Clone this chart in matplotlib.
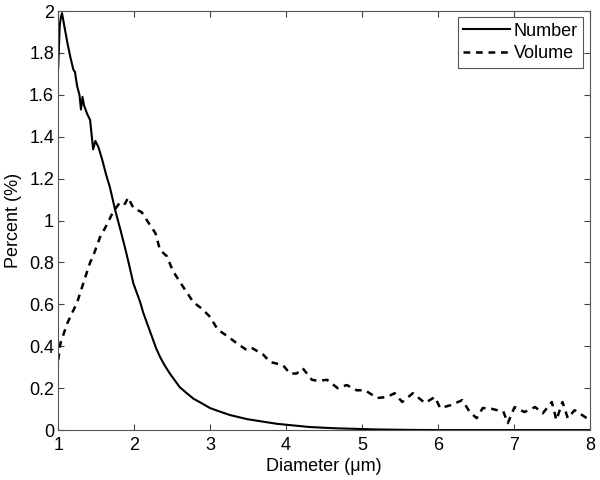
import numpy as np
import matplotlib
matplotlib.use("Agg")
import matplotlib.pyplot as plt
from matplotlib.ticker import FuncFormatter

# ------------------------------------------------------------
#  Daten
# ------------------------------------------------------------
num_x = [1.00, 1.02, 1.035, 1.05, 1.07, 1.09, 1.12, 1.16, 1.20, 1.22, 1.25,
         1.28, 1.30, 1.32, 1.34, 1.38, 1.42, 1.46, 1.49, 1.53, 1.58, 1.63,
         1.68, 1.75, 1.82, 1.88, 1.92, 1.99, 2.03, 2.08, 2.12, 2.17, 2.21,
         2.25, 2.29, 2.34, 2.40, 2.47, 2.53, 2.60, 2.68, 2.78, 2.88, 3.00,
         3.13, 3.26, 3.49, 3.70, 3.88, 4.10, 4.30, 4.50, 4.70, 5.00, 5.20,
         5.60, 6.00, 7.00, 8.00]
num_y = [1.73, 1.93, 1.97, 1.99, 1.95, 1.91, 1.85, 1.78, 1.72, 1.71, 1.64,
         1.60, 1.53, 1.59, 1.55, 1.51, 1.48, 1.34, 1.38, 1.35, 1.29, 1.22,
         1.16, 1.05, 0.955, 0.87, 0.81, 0.70, 0.66, 0.61, 0.56, 0.51, 0.47,
         0.43, 0.39, 0.35, 0.31, 0.27, 0.24, 0.205, 0.18, 0.15, 0.13, 0.105,
         0.088, 0.072, 0.052, 0.040, 0.030, 0.022, 0.015, 0.011, 0.008, 0.005,
         0.003, 0.001, 0.0, 0.0, 0.0]

vol_x = [1.00, 1.03, 1.12, 1.25, 1.33, 1.42, 1.46, 1.55, 1.64, 1.72, 1.82,
         1.88, 1.92, 1.99, 2.10, 2.17, 2.28, 2.34, 2.43, 2.51, 2.58, 2.67,
         2.78, 2.89, 3.00, 3.10, 3.22, 3.35, 3.49, 3.56, 3.70, 3.79, 3.96,
         4.05, 4.14, 4.22, 4.34, 4.42, 4.54, 4.68, 4.80, 4.93, 5.04, 5.20,
         5.33, 5.43, 5.53, 5.67, 5.83, 5.96, 6.03, 6.18, 6.32, 6.42, 6.51,
         6.59, 6.67, 6.78, 6.86, 6.92, 7.01, 7.14, 7.28, 7.38, 7.50, 7.56,
         7.64, 7.71, 7.80, 7.96, 8.00]
vol_y = [0.334, 0.415, 0.51, 0.61, 0.70, 0.80, 0.83, 0.92, 0.98, 1.04, 1.09,
         1.08, 1.11, 1.06, 1.04, 1.00, 0.94, 0.86, 0.83, 0.76, 0.72, 0.67,
         0.61, 0.58, 0.54, 0.48, 0.45, 0.415, 0.38, 0.39, 0.36, 0.325, 0.31,
         0.27, 0.27, 0.295, 0.24, 0.235, 0.24, 0.20, 0.215, 0.19, 0.19, 0.153,
         0.158, 0.176, 0.134, 0.176, 0.129, 0.158, 0.105, 0.12, 0.143, 0.086,
         0.057, 0.105, 0.105, 0.095, 0.09, 0.033, 0.11, 0.086, 0.11, 0.08,
         0.134, 0.048, 0.134, 0.057, 0.095, 0.057, 0.05]

# ------------------------------------------------------------
#  Plot
# ------------------------------------------------------------
plt.rcParams["font.family"] = ["Liberation Sans", "DejaVu Sans"]
FS = 13

fig = plt.figure(figsize=(6, 4.8), dpi=100)
ax = fig.add_axes([0.097, 0.104, 0.886, 0.873])

ax.plot(num_x, num_y, color="black", lw=1.5, label="Number")
ax.plot(vol_x, vol_y, color="black", lw=1.8, ls=(0, (2.7, 2.3)),
        label="Volume")

ax.set_xlim(1, 8)
ax.set_ylim(0, 2)
ax.set_xticks(np.arange(1, 9, 1))
ax.set_yticks(np.arange(0, 2.01, 0.2))
ax.yaxis.set_major_formatter(FuncFormatter(lambda v, p: f"{v:g}"))
ax.tick_params(direction="in", length=4, top=True, right=True,
               labelsize=FS, color="#444444")
ax.tick_params(axis="x", pad=5)
ax.tick_params(axis="y", pad=3)
for s in ax.spines.values():
    s.set_color("#555555")
    s.set_linewidth(0.8)

ax.set_xlabel("Diameter (\u03bcm)", fontsize=FS, labelpad=3)
ax.set_ylabel("Percent (%)", fontsize=FS, labelpad=5)

leg = ax.legend(loc="upper right", fontsize=FS, fancybox=False,
                framealpha=1, edgecolor="#555555", borderaxespad=0.35,
                handlelength=2.6, handletextpad=0.2, borderpad=0.3,
                labelspacing=0.3)
leg.get_frame().set_linewidth(0.8)

plt.savefig("out.png", dpi=100)
